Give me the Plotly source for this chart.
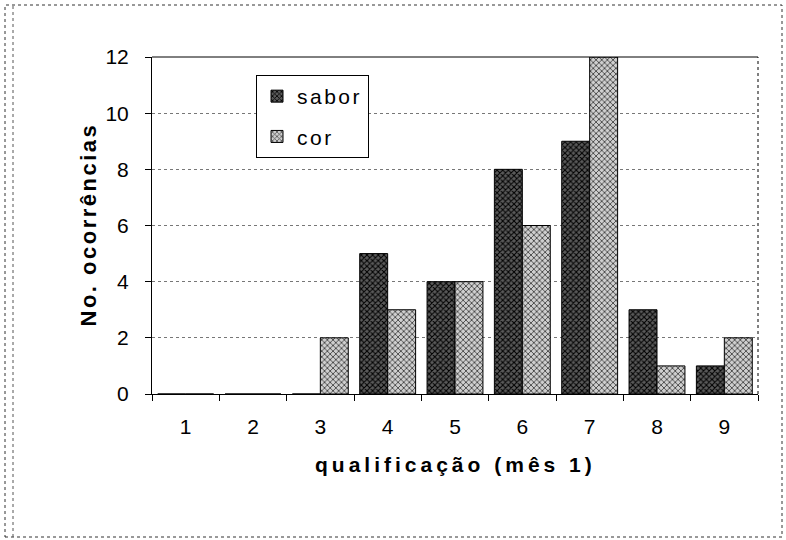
import plotly.graph_objects as go

# Score categories and counts per attribute
categorias = ["1", "2", "3", "4", "5", "6", "7", "8", "9"]
sabor = [0, 0, 0, 5, 4, 8, 9, 3, 1]
cor = [0, 0, 2, 3, 4, 6, 12, 1, 2]
y_ticks = [0, 2, 4, 6, 8, 10, 12]

W, H = 786, 540
L, R, T, B = 152, 28, 57, 146
PW, PH = W - L - R, H - T - B


def px_x(px):
    return (px - L) / PW


def px_y(py):
    return (H - B - py) / PH


def spaced(text, gap):
    return f'<span style="letter-spacing:{gap}px">{text}</span>'


FONT = "Liberation Sans, Arial, sans-serif"

fig = go.Figure()
fig.add_trace(go.Bar(
    x=categorias, y=sabor, name=spaced("sabor", 2.5), legendgroup="a",
    marker=dict(
        color="#3a3a3a",
        line=dict(color="black", width=1),
        pattern=dict(shape="x", size=4, solidity=0.45,
                     fgcolor="#000000", bgcolor="#5a5a5a", fillmode="replace"),
    ),
))
fig.add_trace(go.Bar(
    x=categorias, y=cor, name=spaced("cor", 2.5), legendgroup="b",
    marker=dict(
        color="#a0a0a0",
        line=dict(color="black", width=1),
        pattern=dict(shape="x", size=4, solidity=0.4,
                     fgcolor="#444444", bgcolor="#cfcfcf", fillmode="replace"),
    ),
))

shapes = []
# top border of the plot area (solid) and right border (dotted)
shapes.append(dict(type="line", xref="paper", yref="paper", x0=0, x1=1, y0=1, y1=1,
                   line=dict(color="black", width=1)))
shapes.append(dict(type="line", xref="paper", yref="paper", x0=1, x1=1, y0=0, y1=1,
                   line=dict(color="black", width=1, dash="dot")))
# outer frame around the whole chart
shapes.append(dict(type="rect", xref="paper", yref="paper",
                   x0=px_x(5), x1=px_x(782), y0=px_y(537), y1=px_y(5),
                   line=dict(color="#333333", width=1, dash="dot")))
shapes.append(dict(type="line", xref="paper", yref="paper",
                   x0=px_x(13), x1=px_x(13), y0=px_y(537), y1=px_y(5),
                   line=dict(color="#555555", width=1, dash="dot")))

fig.update_layout(
    width=W, height=H,
    margin=dict(l=L, r=R, t=T, b=B),
    paper_bgcolor="white", plot_bgcolor="white",
    barmode="group", bargap=0.17, bargroupgap=0,
    font=dict(family=FONT, size=16, color="black"),
    showlegend=True,
    legend=dict(
        x=px_x(256), y=px_y(75), xanchor="left", yanchor="top",
        bgcolor="white", bordercolor="black", borderwidth=1,
        font=dict(family=FONT, size=21, color="black"),
        itemwidth=30, tracegroupgap=10,
    ),
    shapes=shapes,
    annotations=[
        dict(text="<b>" + spaced("No. ocorrências", 2.5) + "</b>", xref="paper", yref="paper",
             x=px_x(73), y=px_y(225), textangle=-90, showarrow=False,
             font=dict(family=FONT, size=22, color="black")),
        dict(text="<b>" + spaced("qualificação (mês 1)", 4) + "</b>", xref="paper", yref="paper",
             x=0.5, y=px_y(478), showarrow=False,
             font=dict(family=FONT, size=21, color="black")),
    ],
)

fig.update_xaxes(
    type="category", categoryorder="array", categoryarray=categorias,
    showline=True, linecolor="black", linewidth=1,
    ticks="outside", ticklen=6, tickcolor="black", tickson="boundaries",
    showgrid=False, tickfont=dict(family=FONT, size=21, color="black"),
    ticklabelstandoff=14,
)
fig.update_yaxes(
    range=[0, 12], tickvals=y_ticks, ticktext=[str(v) for v in y_ticks],
    showline=True, linecolor="black", linewidth=1,
    ticks="outside", ticklen=6, tickcolor="black",
    showgrid=True, gridcolor="#777777", gridwidth=1, griddash="dot",
    zeroline=False, tickfont=dict(family=FONT, size=21, color="black"),
    ticklabelstandoff=12,
)

fig.write_html("out.html")
